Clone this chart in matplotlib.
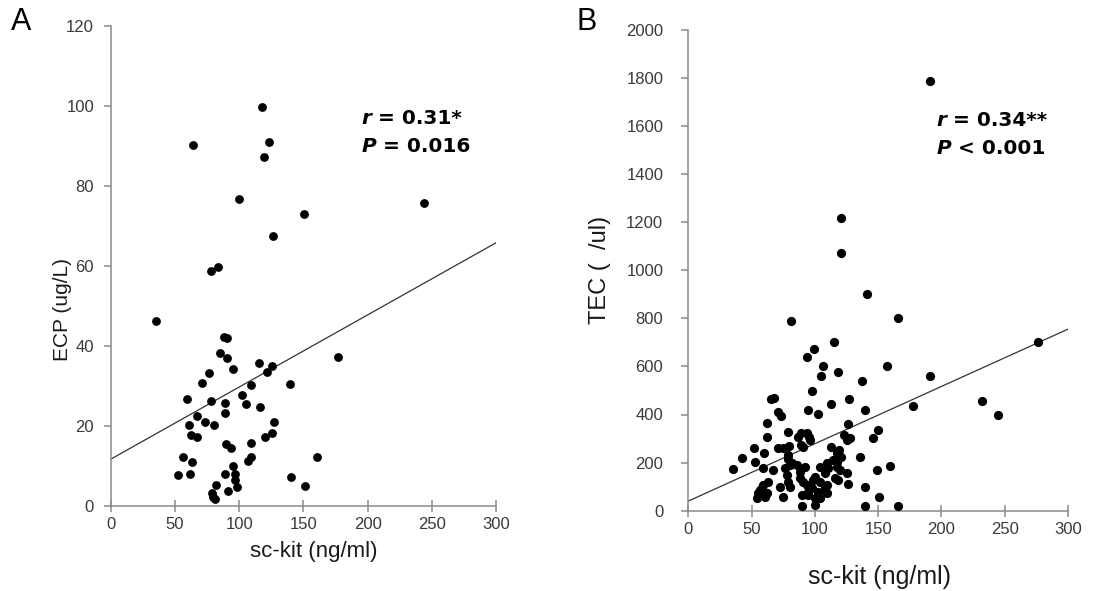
import matplotlib
matplotlib.use("Agg")
import matplotlib.pyplot as plt

# ---------------- data ----------------
# Panel A: sc-kit (ng/ml) vs ECP (ug/L)
a_x = [118.1, 64.1, 123.3, 119.2, 99.9, 150.5, 244.0, 126.6, 78.1, 83.8, 35.0,
       88.2, 90.3, 85.1, 90.3, 115.5, 125.4, 121.5, 95.0, 76.8, 177.3, 71.3,
       109.0, 139.6, 59.2, 78.1, 89.0, 102.0, 105.1, 116.3, 89.0, 67.4, 73.4,
       80.7, 61.2, 62.3, 67.4, 127.2, 125.9, 120.2, 109.0, 89.6, 93.7, 109.0,
       107.2, 56.5, 63.1, 160.4, 95.0, 52.6, 61.8, 89.0, 96.8, 96.8, 140.4,
       151.3, 82.0, 98.6, 91.1, 78.7, 79.9, 81.2]
a_y = [99.7, 90.2, 91.1, 87.3, 76.7, 72.9, 75.7, 67.4, 58.8, 59.7, 46.3,
       42.3, 41.9, 38.2, 37.1, 35.8, 35.0, 33.6, 34.2, 33.3, 37.3, 30.8,
       30.3, 30.5, 26.8, 26.3, 25.7, 27.8, 25.5, 24.8, 23.2, 22.6, 21.1,
       20.3, 20.3, 17.8, 17.3, 21.1, 18.3, 17.3, 15.7, 15.4, 14.6, 12.3,
       11.3, 12.2, 11.1, 12.3, 10.0, 7.8, 8.0, 8.0, 8.0, 6.5, 7.2,
       5.0, 5.3, 4.7, 3.8, 3.2, 2.3, 1.8]

# Panel B: sc-kit (ng/ml) vs TEC (/ul)
b_x = [190.7, 121.0, 120.3, 141.3, 81.0, 166.0, 276.0, 115.0, 99.5, 93.4, 106.6,
       157.0, 118.4, 104.5, 190.8, 137.0, 98.0, 65.0, 67.6, 126.8, 232.4, 112.4,
       177.6, 70.6, 73.2, 94.7, 102.6, 139.5, 244.7, 61.9, 125.8, 150.0, 146.0,
       78.5, 61.9, 88.8, 86.6, 93.4, 95.3, 96.0, 123.1, 127.6, 125.0, 52.1, 60.0,
       71.0, 75.0, 79.7, 89.0, 90.3, 112.6, 119.0, 117.1, 135.5, 78.9, 42.1,
       35.0, 52.6, 59.2, 67.1, 76.3, 78.9, 80.3, 85.6, 88.2, 92.1, 72.4, 78.9,
       80.3, 59.2, 57.9, 55.2, 54.0, 61.9, 60.5, 75.0, 88.2, 90.8, 89.5, 89.5,
       103.9, 110.5, 117.1, 121.0, 100.0, 107.9, 115.8, 118.4, 125.0, 126.3,
       148.7, 159.7, 139.5, 150.5, 139.5, 165.7, 93.4, 97.4, 102.6, 107.9, 109.2,
       103.9, 94.7, 100.0, 77.7, 63.1, 56.6, 81.6, 109.2, 114.4, 117.1, 119.7,
       109.2, 103.9, 98.7, 94.7, 100.0]
b_y = [1787, 1215, 1073, 900, 790, 800, 703, 703, 671, 641, 603,
       603, 578, 560, 560, 540, 499, 463, 467, 465, 458, 444,
       436, 412, 394, 419, 401, 420, 398, 366, 359, 336, 301,
       326, 305, 322, 305, 322, 305, 294, 315, 301, 294, 262, 241,
       262, 262, 269, 273, 266, 266, 253, 239, 222, 232, 218,
       173, 204, 176, 169, 176, 215, 190, 190, 162, 183, 100, 121,
       100, 107, 93, 72, 52, 72, 58, 58, 135, 121, 65, 21,
       183, 176, 204, 225, 141, 155, 135, 128, 155, 110,
       169, 186, 100, 58, 21, 21, 107, 93, 79, 93, 72,
       52, 65, 24, 149, 121, 86, 197, 197, 211, 183, 169,
       107, 121, 128, 79, 52]

# fitted regression lines (endpoints)
fit_x = [0, 300]
a_fit = [11.7, 65.8]
b_fit = [40, 755]

a_xticks = [0, 50, 100, 150, 200, 250, 300]
a_yticks = [0, 20, 40, 60, 80, 100, 120]
b_xticks = [0, 50, 100, 150, 200, 250, 300]
b_yticks = list(range(0, 2001, 200))

# ---------------- figure ----------------
W, H = 1093, 591
fig = plt.figure(figsize=(W / 100, H / 100), dpi=100)
plt.rcParams['font.family'] = ['Liberation Sans', 'DejaVu Sans']

spine_col = '#8a8a8a'
tick_col = '#3a3a3a'
label_col = '#1a1a1a'


def style(ax, ypad):
    for s in ['top', 'right']:
        ax.spines[s].set_visible(False)
    for s in ['left', 'bottom']:
        ax.spines[s].set_color(spine_col)
        ax.spines[s].set_linewidth(1.1)
    ax.tick_params(axis='y', direction='out', length=5, width=1.1, color=spine_col,
                   labelsize=12, labelcolor=tick_col, pad=ypad)
    ax.tick_params(axis='x', direction='inout', length=8, width=1.1, color=spine_col,
                   labelsize=12, labelcolor=tick_col, pad=4)


def px_axes(l, r, t, b):
    return fig.add_axes([l / W, 1 - b / H, (r - l) / W, (b - t) / H])


def stat_text(ax, x, y, sym, rest):
    t = ax.text(x, y, sym, fontsize=14.5, fontweight='bold', fontstyle='italic',
                family='DejaVu Sans', ha='left', va='center', color='black')
    ax.annotate(rest, xy=(1, 0), xycoords=t, ha='left', va='bottom',
                fontsize=14.5, fontweight='bold', family='DejaVu Sans', color='black')


# Panel A
axA = px_axes(110.7, 496, 26, 506)
axA.scatter(a_x, a_y, s=40, color='black', zorder=3, linewidths=0)
axA.plot(fit_x, a_fit, color='#333333', lw=0.9, zorder=2)
axA.set_xlim(0, 300)
axA.set_ylim(0, 120)
axA.set_xticks(a_xticks)
axA.set_yticks(a_yticks)
style(axA, 7)
axA.set_ylabel('ECP (ug/L)', fontsize=15, color=label_col, va='center', ha='center')
axA.yaxis.set_label_coords(-0.125, 0.409)
axA.set_xlabel('sc-kit (ng/ml)', fontsize=16, color=label_col, va='center', ha='center')
axA.xaxis.set_label_coords(0.526, -0.094)
stat_text(axA, 195, 97, 'r', ' = 0.31*')
stat_text(axA, 195, 90, 'P', ' = 0.016')

# Panel B
axB = px_axes(688.3, 1068, 29.7, 510.7)
axB.scatter(b_x, b_y, s=44, color='black', zorder=3, linewidths=0)
axB.plot(fit_x, b_fit, color='#333333', lw=0.9, zorder=2)
axB.set_xlim(0, 300)
axB.set_ylim(0, 2000)
axB.set_xticks(b_xticks)
axB.set_yticks(b_yticks)
style(axB, 13)
axB.set_ylabel('TEC (  /ul)', fontsize=17, color=label_col, va='center', ha='center')
axB.yaxis.set_label_coords(-0.232, 0.50)
axB.set_xlabel('sc-kit (ng/ml)', fontsize=18, color=label_col, va='center', ha='center')
axB.xaxis.set_label_coords(0.503, -0.138)
stat_text(axB, 196, 1621, 'r', ' = 0.34**')
stat_text(axB, 196, 1505, 'P', ' < 0.001')

# panel letters
fig.text(21 / W, 1 - 22 / H, 'A', fontsize=22, ha='center', va='center')
fig.text(587 / W, 1 - 22 / H, 'B', fontsize=22, ha='center', va='center')

fig.savefig('out.png', dpi=100)
